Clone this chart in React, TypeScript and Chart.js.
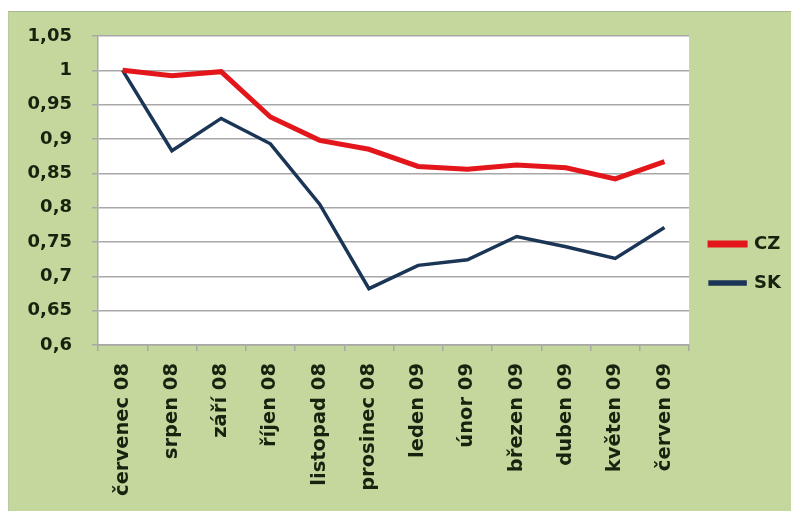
import React, { useEffect, useRef } from "react";
import { Chart, registerables } from "chart.js";

Chart.register(...registerables);

const categories = [
  "červenec 08", "srpen 08", "září 08", "říjen 08", "listopad 08", "prosinec 08",
  "leden 09", "únor 09", "březen 09", "duben 09", "květen 09", "červen 09",
];
const czValues = [1.0, 0.992, 0.998, 0.932, 0.898, 0.885, 0.86, 0.856, 0.862, 0.858, 0.842, 0.867];
const skValues = [1.0, 0.883, 0.93, 0.893, 0.805, 0.682, 0.716, 0.724, 0.758, 0.743, 0.726, 0.771];
const yMin = 0.6;
const yMax = 1.05;
const yStep = 0.05;

const FONT = "'DejaVu Sans', sans-serif";
const TEXT = "#16230f";

const plotBg = {
  id: "plotBg",
  beforeDraw(chart: any) {
    const { ctx, chartArea } = chart;
    ctx.save();
    ctx.fillStyle = "#ffffff";
    ctx.fillRect(chartArea.left, chartArea.top, chartArea.right - chartArea.left, chartArea.bottom - chartArea.top);
    ctx.restore();
  },
};

export default function App() {
  const ref = useRef<HTMLCanvasElement | null>(null);
  useEffect(() => {
    if (!ref.current) return;
    const chart = new Chart(ref.current, {
      type: "line",
      data: {
        labels: categories,
        datasets: [
          { label: "CZ", data: czValues, borderColor: "#e3161b", backgroundColor: "#e3161b", borderWidth: 5, pointRadius: 0, tension: 0 },
          { label: "SK", data: skValues, borderColor: "#1b3556", backgroundColor: "#1b3556", borderWidth: 3.5, pointRadius: 0, tension: 0 },
        ],
      },
      plugins: [plotBg],
      options: {
        animation: false,
        responsive: false,
        devicePixelRatio: 1,
        layout: { padding: { left: 8, top: 16, right: 4, bottom: 0 } },
        plugins: {
          title: { display: true, text: " ", font: { size: 10, lineHeight: 1 }, padding: 5 },
          tooltip: { enabled: false },
          legend: {
            display: true,
            position: "right",
            labels: {
              boxWidth: 35,
              boxHeight: 2,
              padding: 21,
              color: TEXT,
              font: { family: FONT, size: 18, weight: "bold" },
            },
          },
        },
        scales: {
          x: {
            offset: true,
            grid: { offset: true, drawOnChartArea: false, drawTicks: true, tickLength: 6, color: "#a8a8a8", lineWidth: 1.5 },
            border: { color: "#a8a8a8", width: 1.5 },
            ticks: {
              minRotation: 90,
              maxRotation: 90,
              autoSkip: false,
              color: TEXT,
              padding: 12,
              font: { family: FONT, size: 19.5, weight: "bold" },
            },
            afterFit: (scale: any) => { scale.height = 166; },
          },
          y: {
            min: yMin,
            max: yMax,
            grid: { color: "#a8a8a8", lineWidth: 1.5, drawTicks: true, tickLength: 6 },
            border: { color: "#a8a8a8", width: 1.5 },
            ticks: {
              stepSize: yStep,
              color: TEXT,
              padding: 20,
              font: { family: FONT, size: 18, weight: "bold" },
              callback: (v: any) => {
                const n = Math.round(Number(v) * 100) / 100;
                return String(n).replace(".", ",");
              },
            },
            afterFit: (scale: any) => { scale.width = 90; },
          },
        },
      },
    });
    return () => chart.destroy();
  }, []);
  return (
    <div style={{ position: "fixed", left: 0, top: 0, width: 795, height: 511, background: "#ffffff" }}>
      <div style={{ position: "absolute", left: 8, top: 11, width: 782, height: 500, background: "#c4d79c", borderTop: "1.5px solid #a9b895", borderLeft: "1.5px solid #b9c9a0" }} />
      <canvas ref={ref} width={795} height={511} style={{ position: "absolute", left: 0, top: 0 }} />
    </div>
  );
}
